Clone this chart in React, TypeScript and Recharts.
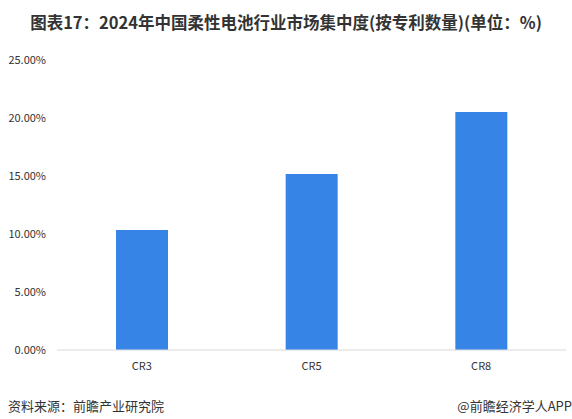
import React from 'react';
import { BarChart, Bar, XAxis, YAxis } from 'recharts';

const categories = ['CR3', 'CR5', 'CR8'];
const shares = [10.34, 15.17, 20.52];
const yTicks = [0, 5, 10, 15, 20, 25];

const chartData = categories.map((name, i) => ({ name, value: shares[i] }));

const font = '"Noto Sans CJK SC", "Noto Sans", sans-serif';
const textColor = '#333333';
const barColor = '#3685e6';

export default function App() {
  return (
    <div style={{ position: 'absolute', left: 0, top: 0, width: 572, height: 419, background: '#fff', fontFamily: font }}>
      <div
        style={{
          position: 'absolute',
          top: 10,
          left: 0,
          width: 572,
          textAlign: 'center',
          fontSize: 16.5,
          fontWeight: 'bold',
          color: textColor,
          lineHeight: '24px',
        }}
      >
        图表17：2024年中国柔性电池行业市场集中度(按专利数量)(单位：%)
      </div>
      <BarChart
        width={572}
        height={419}
        data={chartData}
        margin={{ top: 60, right: 6, left: 0, bottom: 39 }}
      >
        <XAxis
          dataKey="name"
          axisLine={{ stroke: '#d9d9d9' }}
          tickLine={false}
          tickMargin={6}
          tick={{ fill: textColor, fontSize: 11, fontFamily: font }}
          height={30}
        />
        <YAxis
          domain={[0, 25]}
          ticks={yTicks}
          width={57}
          axisLine={false}
          tickLine={false}
          tickSize={6}
          tickMargin={5}
          tickFormatter={(v: number) => v.toFixed(2) + '%'}
          tick={{ fill: textColor, fontSize: 11, fontFamily: font }}
        />
        <Bar dataKey="value" fill={barColor} barSize={52} isAnimationActive={false} />
      </BarChart>
      <div style={{ position: 'absolute', left: 8, top: 396, fontSize: 13, color: textColor }}>
        资料来源：前瞻产业研究院
      </div>
      <div style={{ position: 'absolute', right: 0, top: 396, fontSize: 13, color: textColor }}>
        @前瞻经济学人APP
      </div>
    </div>
  );
}
